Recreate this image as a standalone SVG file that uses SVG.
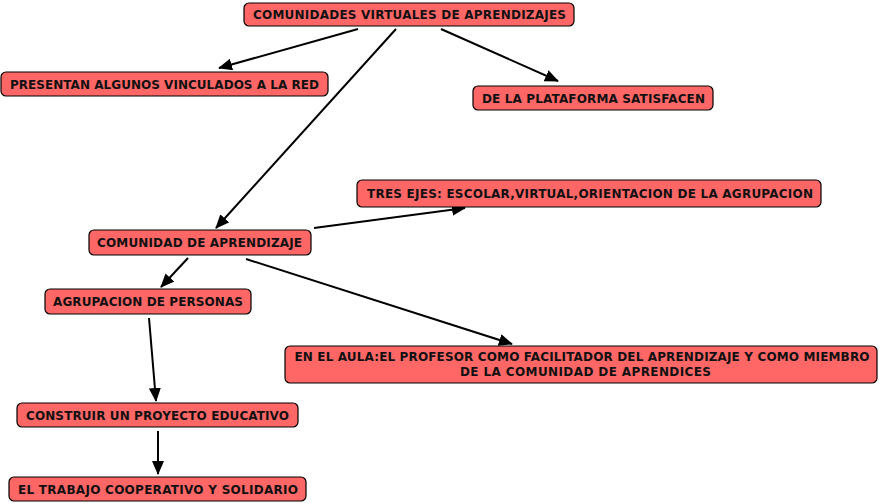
<svg xmlns="http://www.w3.org/2000/svg" width="879" height="503" viewBox="0 0 879 503">
<defs>
<style>
.n rect{fill:#ff6666;stroke:#000;stroke-width:1.2}
.n text{font-family:"DejaVu Sans",Verdana,sans-serif;font-weight:bold;font-size:12px;fill:#111;text-anchor:middle}
.e line{stroke:#000;stroke-width:2;marker-end:url(#ah)}
</style>
<marker id="ah" viewBox="0 0 14 12" refX="13" refY="6" markerWidth="7" markerHeight="6" orient="auto" markerUnits="strokeWidth">
<path d="M0,0 L14,6 L0,12 z" fill="#000"/>
</marker>
</defs>
<rect width="879" height="503" fill="#fff"/>
<g id="edges" class="e">
<line x1="358" y1="29" x2="219" y2="68"/>
<line x1="441" y1="29" x2="558" y2="81"/>
<line x1="396" y1="29" x2="216" y2="228"/>
<line x1="314" y1="228" x2="465" y2="208"/>
<line x1="188" y1="258" x2="161" y2="287"/>
<line x1="246" y1="259" x2="512" y2="344"/>
<line x1="149" y1="318" x2="156" y2="401"/>
<line x1="158" y1="431" x2="158" y2="474"/>
</g>
<g id="n1" class="n"><rect x="244" y="3" width="330" height="23" rx="5"/><text x="409.5" y="19" textLength="313">COMUNIDADES VIRTUALES DE APRENDIZAJES</text></g>
<g id="n2" class="n"><rect x="1" y="72" width="327" height="24" rx="5"/><text x="164.5" y="88.5" textLength="309">PRESENTAN ALGUNOS VINCULADOS A LA RED</text></g>
<g id="n3" class="n"><rect x="473" y="86" width="240" height="24" rx="5"/><text x="593.5" y="102.5" textLength="223">DE LA PLATAFORMA SATISFACEN</text></g>
<g id="n4" class="n"><rect x="357" y="180" width="464" height="27" rx="5"/><text x="590" y="198" textLength="446">TRES EJES: ESCOLAR,VIRTUAL,ORIENTACION DE LA AGRUPACION</text></g>
<g id="n5" class="n"><rect x="89" y="230" width="222" height="25" rx="5"/><text x="199.5" y="247" textLength="205">COMUNIDAD DE APRENDIZAJE</text></g>
<g id="n6" class="n"><rect x="45" y="289" width="206" height="25" rx="5"/><text x="148" y="306" textLength="190">AGRUPACION DE PERSONAS</text></g>
<g id="n7" class="n"><rect x="285" y="346" width="592" height="37" rx="5"/><text x="582" y="361" textLength="575">EN EL AULA:EL PROFESOR COMO FACILITADOR DEL APRENDIZAJE Y COMO MIEMBRO</text><text x="585.5" y="376" textLength="251">DE LA COMUNIDAD DE APRENDICES</text></g>
<g id="n8" class="n"><rect x="17" y="403" width="281" height="24" rx="5"/><text x="157.5" y="419.5" textLength="263">CONSTRUIR UN PROYECTO EDUCATIVO</text></g>
<g id="n9" class="n"><rect x="9" y="477" width="297" height="24" rx="5"/><text x="158" y="493.5" textLength="280">EL TRABAJO COOPERATIVO Y SOLIDARIO</text></g>
</svg>
